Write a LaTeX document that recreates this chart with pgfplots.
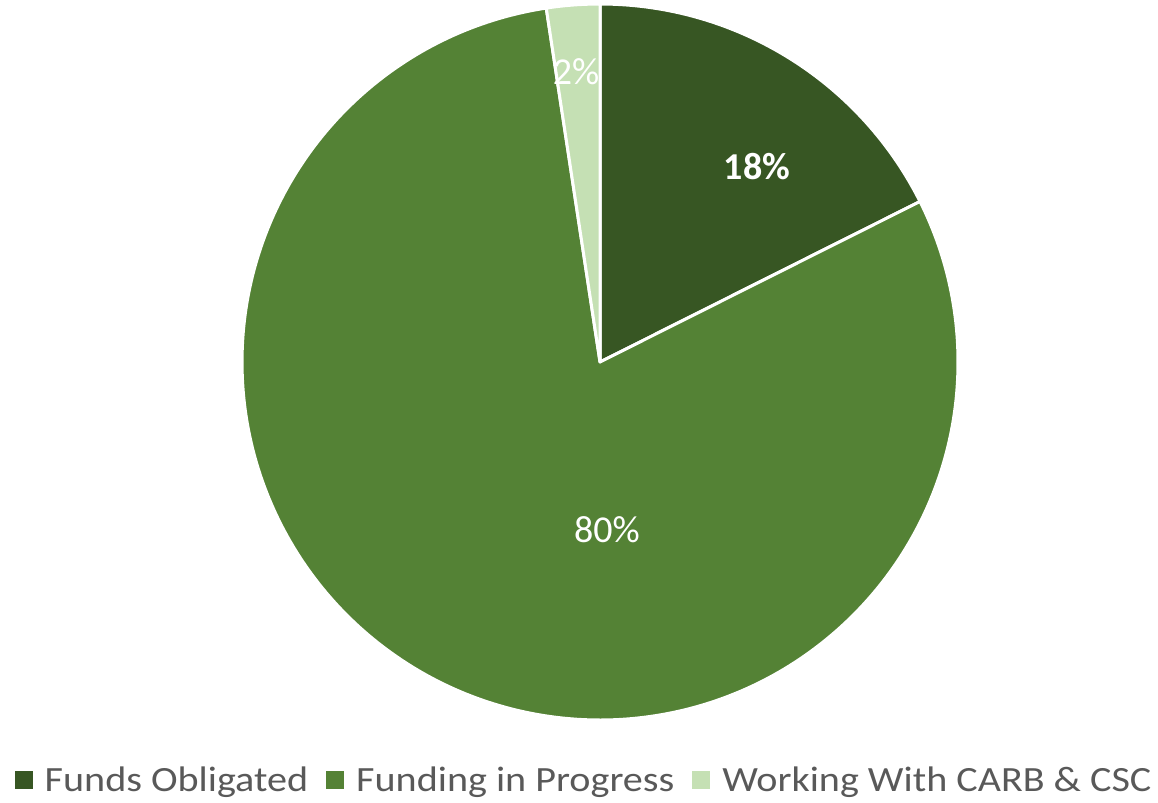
\documentclass[border=0pt]{standalone}
\usepackage{fontspec}
\setmainfont{Carlito}
\newfontfamily\legfont[FakeStretch=1.13]{Carlito}
\usepackage{pgfplots}
\pgfplotsset{compat=1.18}
\definecolor{cA}{HTML}{375623}
\definecolor{cB}{HTML}{548235}
\definecolor{cC}{HTML}{C5E0B4}
\definecolor{legtext}{HTML}{595959}
\begin{document}
\begin{tikzpicture}
% slice values (percent)
\def\vA{17.6}
\def\vB{80.0}
\def\vC{2.4}
\pgfmathsetmacro\aA{90}
\pgfmathsetmacro\aB{90-3.6*\vA}
\pgfmathsetmacro\aC{\aB-3.6*\vB}
\pgfmathsetmacro\aD{\aC-3.6*\vC}
\begin{axis}[
  x=358bp, y=358bp,
  xmin=-1.676, xmax=1.5587, ymin=-1.2318, ymax=1.0112,
  hide axis, clip=false,
  legend image code/.code={\fill[#1,draw=none] (0bp,-9bp) rectangle (18bp,9bp);},
  legend style={at={(0.5035,0.0286)}, anchor=center, draw=none, fill=none,
    legend columns=-1, font=\legfont\fontsize{35.5bp}{40bp}\selectfont, text=legtext,
    nodes={inner sep=0pt},
    /tikz/every odd column/.append style={column sep=12bp},
    /tikz/every even column/.append style={column sep=18bp}, inner sep=0pt},
]
\addplot[fill=cA, draw=white, line width=3bp, line join=round, domain=\aA:\aB, samples=90] ({cos(x)},{sin(x)}) -- (axis cs:0,0) -- cycle;
\addlegendentry{Funds Obligated}
\addplot[fill=cB, draw=white, line width=3bp, line join=round, domain=\aB:\aC, samples=300] ({cos(x)},{sin(x)}) -- (axis cs:0,0) -- cycle;
\addlegendentry{Funding in Progress}
\addplot[fill=cC, draw=white, line width=3bp, line join=round, domain=\aC:\aD, samples=20] ({cos(x)},{sin(x)}) -- (axis cs:0,0) -- cycle;
\addlegendentry{Working With CARB \& CSC}
\node[text=white, font=\fontsize{38bp}{44bp}\selectfont\bfseries] at (axis cs:0.4385,0.5447) {18\%};
\node[text=white, font=\fontsize{38bp}{44bp}\selectfont] at (axis cs:0.0196,-0.469) {80\%};
\node[text=white, font=\fontsize{38bp}{44bp}\selectfont] at (axis cs:-0.067,0.810) {2\%};
\end{axis}
\pgfresetboundingbox
\path (0,0) rectangle (1158bp,803bp);
\end{tikzpicture}
\end{document}
